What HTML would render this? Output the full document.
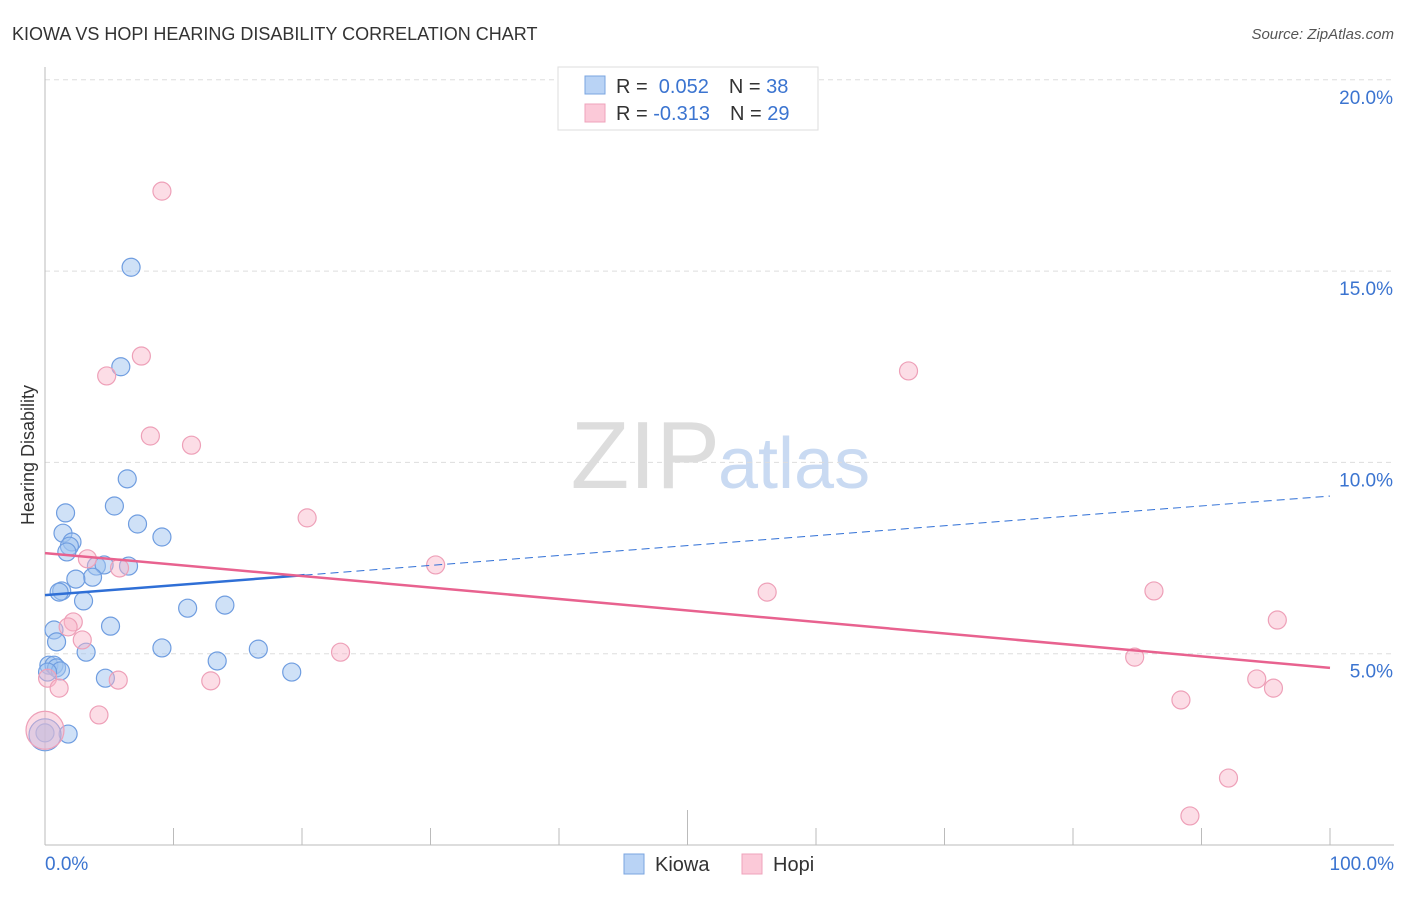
<!DOCTYPE html>
<html><head><meta charset="utf-8"><style>
body{margin:0;background:#fff;font-family:"Liberation Sans",sans-serif}
svg text{font-family:"Liberation Sans",sans-serif}
</style></head><body>
<svg id="c" width="1406" height="892" xmlns="http://www.w3.org/2000/svg">
<text x="12" y="40" font-size="18" fill="#333">KIOWA VS HOPI HEARING DISABILITY CORRELATION CHART</text>
<text x="1394" y="39" font-size="15" fill="#555" text-anchor="end" font-style="italic">Source: ZipAtlas.com</text>
<text x="720" y="488" font-size="96" fill="#ddd" text-anchor="end" font-family="Liberation Serif">ZIP</text>
<text x="718" y="488" font-size="72" fill="#c9daf2">atlas</text>
<g id="grid"></g><g id="axes"></g><g id="pts"></g><g id="trend"></g>
<text x="34" y="455" font-size="18" fill="#333" text-anchor="middle" transform="rotate(-90 34 455)">Hearing Disability</text>
<g>
<rect x="558" y="67" width="260" height="63" fill="#fff" stroke="#ddd"/>
<rect x="585" y="76" width="20" height="18" fill="#b9d3f5" stroke="#7aa5e0"/>
<rect x="585" y="104" width="20" height="18" fill="#fbc9d8" stroke="#efa3bb"/>
<text x="616" y="93" font-size="20" fill="#333">R = <tspan fill="#3b74d0">&#160;0.052</tspan><tspan dx="20" fill="#333">N = </tspan><tspan fill="#3b74d0">38</tspan></text>
<text x="616" y="120" font-size="20" fill="#333">R = <tspan fill="#3b74d0">-0.313</tspan><tspan dx="20" fill="#333">N = </tspan><tspan fill="#3b74d0">29</tspan></text>
</g>
<g>
<rect x="624" y="854" width="20" height="20" fill="#b9d3f5" stroke="#7aa5e0"/>
<text x="655" y="871" font-size="20" fill="#333">Kiowa</text>
<rect x="742" y="854" width="20" height="20" fill="#fbc9d8" stroke="#efa3bb"/>
<text x="773" y="871" font-size="20" fill="#333">Hopi</text>
</g>
</svg>
<script>
const xTicks=[0,10,20,30,40,50,60,70,80,90,100];
const yTicks=[5,10,15,20];
const kiowaX=[6.7,5.9,6.4,5.4,1.6,7.2,1.4,9.1,2.1,1.9,1.7,4.0,6.5,4.6,3.7,2.4,1.3,1.1,3.0,11.1,14.0,5.1,0.7,0.9,3.2,9.1,16.6,13.4,0.3,0.7,0.9,1.2,0.2,19.2,4.7,1.8,0,0];
const kiowaY=[15.1,12.5,9.57,8.86,8.68,8.39,8.15,8.05,7.92,7.81,7.66,7.29,7.29,7.32,7.0,6.95,6.64,6.61,6.38,6.19,6.27,5.72,5.62,5.31,5.04,5.15,5.12,4.81,4.70,4.70,4.63,4.55,4.52,4.52,4.36,2.90,2.93,2.88];
const kiowaR=[9,9,9,9,9,9,9,9,9,9,9,9,9,9,9,9,9,9,9,9,9,9,9,9,9,9,9,9,9,9,9,9,9,9,9,9,9,16];
const hopiX=[9.1,7.5,4.8,8.2,11.4,67.2,20.4,30.4,3.3,5.8,56.2,86.3,95.9,2.2,1.8,2.9,23.0,84.8,0.2,1.1,5.7,12.9,94.3,95.6,88.4,4.2,92.1,89.1,0];
const hopiY=[17.09,12.78,12.26,10.69,10.45,12.39,8.55,7.32,7.48,7.24,6.61,6.64,5.88,5.83,5.70,5.36,5.04,4.91,4.36,4.10,4.31,4.29,4.34,4.10,3.79,3.40,1.75,0.76,3.0];
const hopiR=[9,9,9,9,9,9,9,9,9,9,9,9,9,9,9,9,9,9,9,9,9,9,9,9,9,9,9,9,19];
const kiowaTrend=[6.53,9.12];
const hopiTrend=[7.63,4.63];
const NS='http://www.w3.org/2000/svg';
const X=v=>45+v*12.85, Y=v=>845-v*38.26;
function mk(t,a,p){const e=document.createElementNS(NS,t);for(const k in a)e.setAttribute(k,a[k]);document.getElementById(p).appendChild(e);return e;}
yTicks.forEach(t=>{
 const l=mk('line',{x1:45,x2:1394,y1:Y(t),y2:Y(t),stroke:'#ddd','stroke-dasharray':'5 4'},'grid');
 
 
 const tx=mk('text',{x:1393,y:Y(t)+24,'font-size':19,fill:'#3b74d0','text-anchor':'end'},'axes');
 tx.textContent=t.toFixed(1)+'%';
 
 
});
const ax=mk('line',{x1:45,x2:45,y1:67,y2:845,stroke:'#bbb'},'axes');


const bx=mk('line',{x1:45,x2:1394,y1:845,y2:845,stroke:'#bbb'},'axes');


xTicks.forEach(t=>{
 const l=mk('line',{x1:X(t),x2:X(t),y1:t===50?810:828,y2:845,stroke:'#bbb'},'axes');
 
 
});
[[0,'0.0%','start',45],[100,'100.0%','end',1394]].forEach(d=>{
 const tx=mk('text',{x:d[3],y:870,'font-size':19,fill:'#3b74d0','text-anchor':d[2]},'axes');
 tx.textContent=d[1];
 
 
});
kiowaX.forEach((v,i)=>{
 const c=mk('circle',{cx:X(v),cy:Y(kiowaY[i]),r:kiowaR[i],fill:'rgba(160,196,240,0.5)',stroke:'#6f9de0','stroke-width':1.2},'pts');
 
 
});
hopiX.forEach((v,i)=>{
 const c=mk('circle',{cx:X(v),cy:Y(hopiY[i]),r:hopiR[i],fill:'rgba(248,180,200,0.45)',stroke:'#eea0b8','stroke-width':1.2},'pts');
 
 
});
const kAt=x=>kiowaTrend[0]+(kiowaTrend[1]-kiowaTrend[0])*x/100;
const t1=mk('line',{x1:X(0),y1:Y(kAt(0)),x2:X(20.2),y2:Y(kAt(20.2)),stroke:'#2f6fd6','stroke-width':2.5},'trend');


const t2=mk('line',{x1:X(20.2),y1:Y(kAt(20.2)),x2:X(100),y2:Y(kAt(100)),stroke:'#2f6fd6','stroke-width':1,'stroke-dasharray':'8 5'},'trend');


const t3=mk('line',{x1:X(0),y1:Y(hopiTrend[0]),x2:X(100),y2:Y(hopiTrend[1]),stroke:'#e8628f','stroke-width':2.5},'trend');


</script>
</body></html>
